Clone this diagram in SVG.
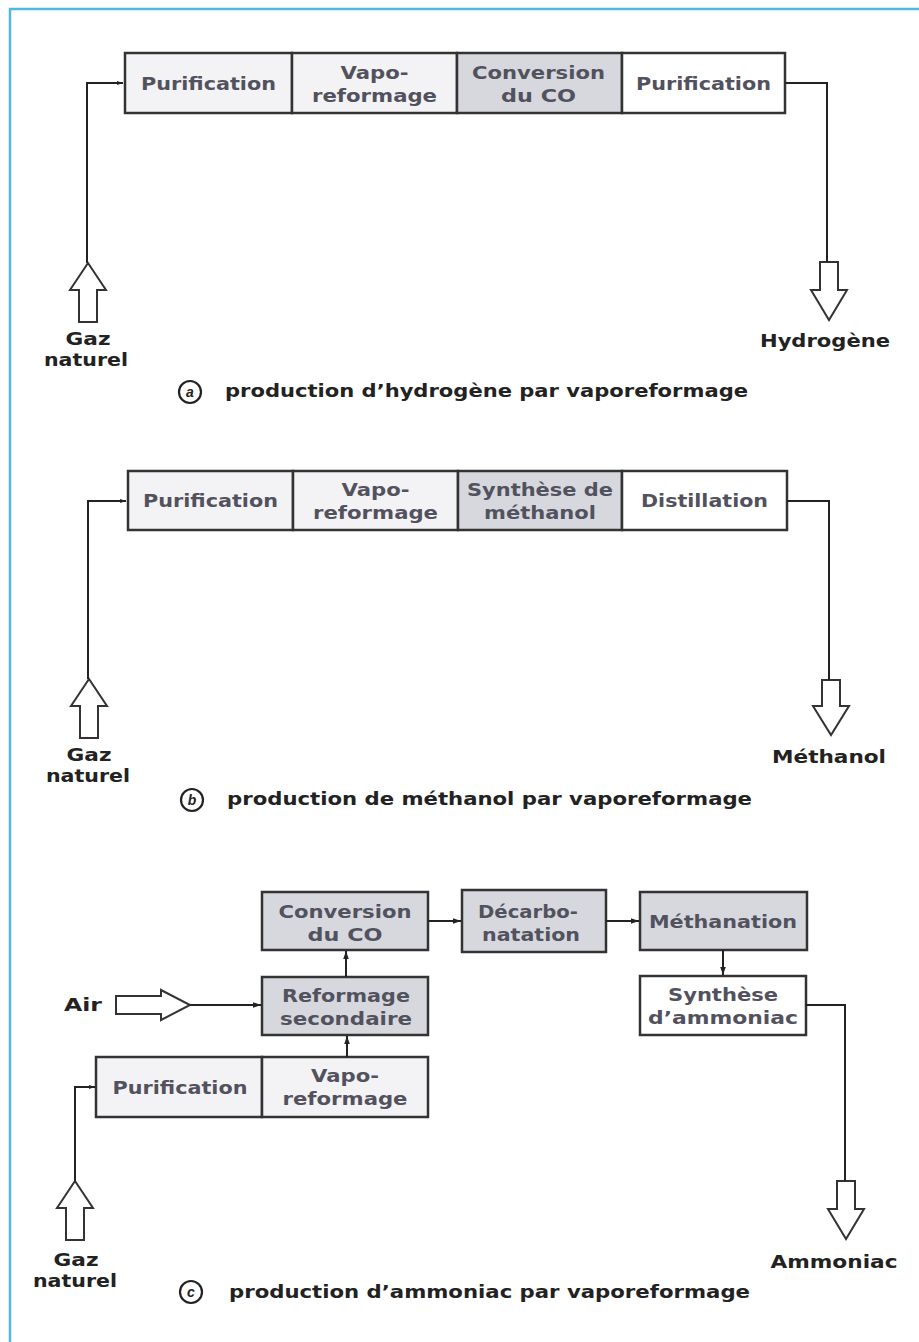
<svg xmlns="http://www.w3.org/2000/svg" width="919" height="1342" viewBox="0 0 919 1342">
<style>
.box{stroke:#333;stroke-width:2.5}
.lt{fill:#f3f3f5}
.gr{fill:#d6d8de}
.wh{fill:#ffffff}
.bt{font-family:"DejaVu Sans","Liberation Sans",sans-serif;font-size:18px;font-weight:bold;fill:#52525e;text-anchor:middle}
.lb{font-family:"DejaVu Sans","Liberation Sans",sans-serif;font-size:17px;font-weight:bold;fill:#222;text-anchor:middle}
.cap{font-family:"DejaVu Sans","Liberation Sans",sans-serif;font-size:18px;font-weight:bold;fill:#222}
.ln{fill:none;stroke:#222;stroke-width:2}
.hol{fill:#fff;stroke:#333;stroke-width:2}
.circ{fill:none;stroke:#222;stroke-width:2.2}
.ci{font-family:"Liberation Sans",Arial,sans-serif;font-size:14px;font-style:italic;font-weight:bold;fill:#222;text-anchor:middle}
</style>
<defs>
<marker id="ah" viewBox="0 0 10 10" refX="10" refY="5" markerWidth="7" markerHeight="6" orient="auto" markerUnits="userSpaceOnUse">
<path d="M0,1.5 L10,5 L0,8.5 z" fill="#222"/>
</marker>
<marker id="ah2" viewBox="0 0 10 10" refX="10" refY="5" markerWidth="10" markerHeight="8" orient="auto" markerUnits="userSpaceOnUse">
<path d="M0,1.5 L10,5 L0,8.5 z" fill="#222"/>
</marker>
</defs>
<rect x="0" y="0" width="919" height="1342" fill="#fff"/>
<rect x="10" y="9" width="930" height="1360" fill="none" stroke="#4fb8e8" stroke-width="2.5"/>

<!-- Section a -->
<g id="a-purif1"><rect class="box lt" x="125" y="53" width="167" height="60"/><text class="bt" x="208.5" y="90" textLength="135" lengthAdjust="spacingAndGlyphs">Purification</text></g>
<g id="a-vapo"><rect class="box lt" x="292" y="53" width="165" height="60"/><text class="bt" x="374.5" y="79" textLength="68" lengthAdjust="spacingAndGlyphs">Vapo-</text><text class="bt" x="374.5" y="102" textLength="125" lengthAdjust="spacingAndGlyphs">reformage</text></g>
<g id="a-conv"><rect class="box gr" x="457" y="53" width="165" height="60"/><text class="bt" x="538.5" y="79" textLength="133" lengthAdjust="spacingAndGlyphs">Conversion</text><text class="bt" x="538.5" y="102" textLength="75" lengthAdjust="spacingAndGlyphs">du CO</text></g>
<g id="a-purif2"><rect class="box wh" x="622" y="53" width="163" height="60"/><text class="bt" x="703.5" y="90" textLength="135" lengthAdjust="spacingAndGlyphs">Purification</text></g>
<g id="a-gaz"><path class="hol" d="M88,263 L106,290 L97,290 L97,322 L79,322 L79,290 L70,290 Z"/><text class="lb" x="88" y="345" textLength="45" lengthAdjust="spacingAndGlyphs">Gaz</text><text class="lb" x="86" y="366" textLength="84" lengthAdjust="spacingAndGlyphs">naturel</text></g>
<g id="a-h2"><path class="hol" d="M820,262 L838,262 L838,290 L847,290 L829,320 L811,290 L820,290 Z"/><text class="lb" x="825" y="347" textLength="130" lengthAdjust="spacingAndGlyphs">Hydrogène</text></g>
<g id="a-cap"><circle class="circ" cx="190" cy="392" r="11"/><text class="ci" x="190" y="397">a</text><text class="cap" x="225" y="397" textLength="523" lengthAdjust="spacingAndGlyphs">production d’hydrogène par vaporeformage</text></g>

<!-- Section b -->
<g id="b-purif"><rect class="box lt" x="128" y="471" width="165" height="59"/><text class="bt" x="210.5" y="507" textLength="135" lengthAdjust="spacingAndGlyphs">Purification</text></g>
<g id="b-vapo"><rect class="box lt" x="293" y="471" width="165" height="59"/><text class="bt" x="375.5" y="496" textLength="68" lengthAdjust="spacingAndGlyphs">Vapo-</text><text class="bt" x="375.5" y="519" textLength="125" lengthAdjust="spacingAndGlyphs">reformage</text></g>
<g id="b-synth"><rect class="box gr" x="458" y="471" width="164" height="59"/><text class="bt" x="540" y="496" textLength="146" lengthAdjust="spacingAndGlyphs">Synthèse de</text><text class="bt" x="540" y="519" textLength="112" lengthAdjust="spacingAndGlyphs">méthanol</text></g>
<g id="b-dist"><rect class="box wh" x="622" y="471" width="165" height="59"/><text class="bt" x="704.5" y="507" textLength="127" lengthAdjust="spacingAndGlyphs">Distillation</text></g>
<g id="b-gaz"><path class="hol" d="M89,679 L107,706 L98,706 L98,738 L80,738 L80,706 L71,706 Z"/><text class="lb" x="89" y="761" textLength="45" lengthAdjust="spacingAndGlyphs">Gaz</text><text class="lb" x="88" y="782" textLength="84" lengthAdjust="spacingAndGlyphs">naturel</text></g>
<g id="b-meth"><path class="hol" d="M822,680 L840,680 L840,706 L849,706 L831,735 L813,706 L822,706 Z"/><text class="lb" x="829" y="763" textLength="114" lengthAdjust="spacingAndGlyphs">Méthanol</text></g>
<g id="b-cap"><circle class="circ" cx="192" cy="800" r="11"/><text class="ci" x="192" y="805">b</text><text class="cap" x="227" y="805" textLength="525" lengthAdjust="spacingAndGlyphs">production de méthanol par vaporeformage</text></g>

<!-- Section c -->
<g id="c-conv"><rect class="box gr" x="262" y="892" width="166" height="58"/><text class="bt" x="345" y="918" textLength="133" lengthAdjust="spacingAndGlyphs">Conversion</text><text class="bt" x="345" y="941" textLength="75" lengthAdjust="spacingAndGlyphs">du CO</text></g>
<g id="c-decarb"><rect class="box gr" x="462" y="890" width="144" height="62"/><text class="bt" x="528" y="918" textLength="100" lengthAdjust="spacingAndGlyphs">Décarbo-</text><text class="bt" x="531" y="941" textLength="98" lengthAdjust="spacingAndGlyphs">natation</text></g>
<g id="c-methan"><rect class="box gr" x="640" y="892" width="167" height="58"/><text class="bt" x="723" y="928" textLength="148" lengthAdjust="spacingAndGlyphs">Méthanation</text></g>
<g id="c-synth"><rect class="box wh" x="640" y="976" width="166" height="59" stroke="#777" stroke-width="2.5"/><text class="bt" x="723" y="1001" textLength="110" lengthAdjust="spacingAndGlyphs">Synthèse</text><text class="bt" x="723" y="1024" textLength="150" lengthAdjust="spacingAndGlyphs">d’ammoniac</text></g>
<g id="c-reform"><rect class="box gr" x="262" y="977" width="166" height="58"/><text class="bt" x="346" y="1002" textLength="128" lengthAdjust="spacingAndGlyphs">Reformage</text><text class="bt" x="346" y="1025" textLength="132" lengthAdjust="spacingAndGlyphs">secondaire</text></g>
<g id="c-purif"><rect class="box lt" x="96" y="1057" width="166" height="60"/><text class="bt" x="180" y="1094" textLength="135" lengthAdjust="spacingAndGlyphs">Purification</text></g>
<g id="c-vapo"><rect class="box lt" x="262" y="1057" width="166" height="60"/><text class="bt" x="345" y="1082" textLength="68" lengthAdjust="spacingAndGlyphs">Vapo-</text><text class="bt" x="345" y="1105" textLength="125" lengthAdjust="spacingAndGlyphs">reformage</text></g>
<g id="c-air"><text class="lb" x="83" y="1011" textLength="38" lengthAdjust="spacingAndGlyphs">Air</text><path class="hol" d="M116,996 L161,996 L161,990 L190,1005 L161,1020 L161,1014 L116,1014 Z"/></g>
<g id="c-gaz"><path class="hol" d="M75,1181 L93,1208 L84,1208 L84,1240 L66,1240 L66,1208 L57,1208 Z"/><text class="lb" x="76" y="1266" textLength="45" lengthAdjust="spacingAndGlyphs">Gaz</text><text class="lb" x="75" y="1287" textLength="84" lengthAdjust="spacingAndGlyphs">naturel</text></g>
<g id="c-nh3"><path class="hol" d="M837,1181 L855,1181 L855,1209 L864,1209 L846,1239 L828,1209 L837,1209 Z"/><text class="lb" x="834" y="1268" textLength="127" lengthAdjust="spacingAndGlyphs">Ammoniac</text></g>
<g id="c-cap"><circle class="circ" cx="191" cy="1292" r="11"/><text class="ci" x="191" y="1297">c</text><text class="cap" x="229" y="1298" textLength="521" lengthAdjust="spacingAndGlyphs">production d’ammoniac par vaporeformage</text></g>

<g id="connectors">
<path class="ln" d="M87,263 L87,83 L123,83" marker-end="url(#ah)" stroke="#777"/>
<path class="ln" d="M785,83 L827,83 L827,262"/>
<path class="ln" d="M88,679 L88,501 L126,501" marker-end="url(#ah)" stroke="#777"/>
<path class="ln" d="M787,501 L829,501 L829,680" stroke="#777"/>
<path class="ln" d="M75,1181 L75,1087 L95,1087" marker-end="url(#ah)"/>
<path class="ln" d="M806,1005 L845,1005 L845,1181"/>
<path class="ln" d="M190,1005 L261,1005" marker-end="url(#ah2)" stroke-width="1.5"/>
<path class="ln" d="M428,921 L461,921" marker-end="url(#ah2)" stroke-width="1.5"/>
<path class="ln" d="M606,921 L639,921" marker-end="url(#ah2)" stroke-width="1.5"/>
<path class="ln" d="M723,950 L723,975" marker-end="url(#ah2)" stroke-width="1.5"/>
<path class="ln" d="M346,977 L346,951" marker-end="url(#ah2)" stroke-width="1.5"/>
<path class="ln" d="M347,1057 L347,1036" marker-end="url(#ah2)" stroke-width="1.5"/>
</g>
</svg>
